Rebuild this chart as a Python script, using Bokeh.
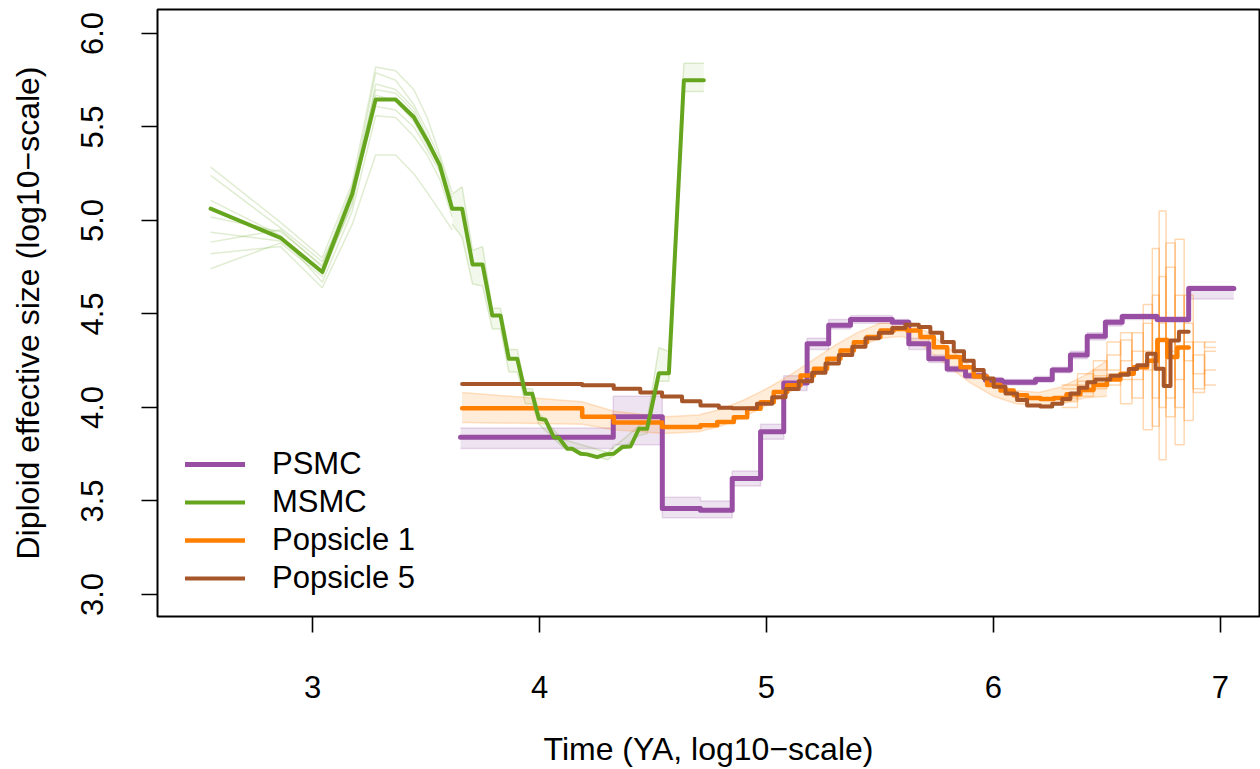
from bokeh.plotting import figure
from bokeh.models import Range1d, FixedTicker, Legend, LegendItem
from bokeh.embed import file_html
from bokeh.resources import INLINE

# ---------------- data (log10 time, log10 Ne) ----------------
x_ticks = [3, 4, 5, 6, 7]
x_tick_labels = ["3", "4", "5", "6", "7"]
y_ticks = [3.0, 3.5, 4.0, 4.5, 5.0, 5.5, 6.0]
y_tick_labels = ["3.0", "3.5", "4.0", "4.5", "5.0", "5.5", "6.0"]

# PSMC (step function: interval starts + final end)
psmc_t = [3.652, 4.325, 4.541, 4.709, 4.849, 4.974, 5.076, 5.179, 5.274, 5.370,
          5.554, 5.627, 5.715, 5.796, 5.877, 5.965, 6.038, 6.185, 6.259, 6.339,
          6.413, 6.493, 6.567, 6.721, 6.860, 7.059]
psmc_ne = [3.84, 3.95, 3.46, 3.45, 3.62, 3.87, 4.13, 4.34, 4.44, 4.47,
           4.455, 4.34, 4.26, 4.205, 4.17, 4.145, 4.135, 4.15, 4.20, 4.28,
           4.38, 4.455, 4.486, 4.47, 4.636]
psmc_lo = [3.78, 3.80, 3.41, 3.41, 3.58, 3.83, 4.09, 4.31, 4.42, 4.45,
           4.43, 4.31, 4.24, 4.19, 4.155, 4.13, 4.12, 4.135, 4.185, 4.26,
           4.36, 4.435, 4.47, 4.455, 4.58]
psmc_hi = [3.89, 4.06, 3.52, 3.50, 3.66, 3.91, 4.17, 4.37, 4.47, 4.49,
           4.47, 4.37, 4.28, 4.22, 4.185, 4.16, 4.15, 4.165, 4.215, 4.30,
           4.40, 4.47, 4.50, 4.485, 4.65]

# MSMC (polyline)
msmc_t = [2.551, 2.859, 3.043, 3.175, 3.278, 3.366, 3.446, 3.505, 3.561, 3.615,
          3.659, 3.705, 3.749, 3.792, 3.828, 3.865, 3.902, 3.938, 3.968, 3.997,
          4.026, 4.063, 4.085, 4.122, 4.144, 4.181, 4.210, 4.254, 4.291, 4.327,
          4.364, 4.401, 4.438, 4.474, 4.526, 4.570, 4.636, 4.724]
msmc_ne = [5.063, 4.907, 4.724, 5.143, 5.647, 5.647, 5.553, 5.428, 5.294, 5.063,
           5.063, 4.765, 4.765, 4.492, 4.492, 4.260, 4.260, 4.073, 4.073, 3.940,
           3.934, 3.841, 3.838, 3.779, 3.779, 3.752, 3.749, 3.734, 3.749, 3.752,
           3.788, 3.791, 3.886, 3.886, 4.183, 4.183, 5.749, 5.749]
# MSMC bootstrap replicates (early part)
msmc_rep_t = [2.551, 2.859, 3.043, 3.175, 3.278, 3.366, 3.446, 3.505, 3.561, 3.615]
msmc_rep1 = [5.285, 4.99, 4.80, 5.20, 5.82, 5.80, 5.70, 5.55, 5.35, 5.15]
msmc_rep2 = [4.742, 4.88, 4.70, 5.10, 5.73, 5.70, 5.60, 5.45, 5.30, 5.10]
msmc_rep3 = [5.107, 4.92, 4.67, 5.05, 5.56, 5.55, 5.45, 5.35, 5.22, 5.02]
msmc_rep4 = [4.884, 4.95, 4.75, 5.15, 5.79, 5.75, 5.62, 5.48, 5.33, 5.12]
msmc_rep5 = [5.241, 4.96, 4.78, 5.12, 5.61, 5.59, 5.50, 5.38, 5.26, 5.05]
msmc_rep6 = [4.822, 4.86, 4.64, 4.98, 5.35, 5.35, 5.25, 5.15, 5.05, 4.95]
msmc_rep7 = [4.937, 4.89, 4.72, 5.08, 5.67, 5.64, 5.53, 5.40, 5.28, 5.06]
msmc_rep8 = [5.018, 4.94, 4.76, 5.18, 5.70, 5.68, 5.58, 5.42, 5.30, 5.08]
# MSMC bootstrap envelope (later part)
msmc_band_t = [3.615, 3.659, 3.705, 3.749, 3.792, 3.828, 3.865, 3.902, 3.938, 3.968,
               3.997, 4.10, 4.30, 4.438, 4.474, 4.526, 4.570, 4.636, 4.724]
msmc_band_lo = [4.98, 4.91, 4.66, 4.65, 4.42, 4.42, 4.19, 4.19, 4.02, 4.02,
                3.91, 3.79, 3.72, 3.85, 3.86, 4.14, 4.14, 5.69, 5.69]
msmc_band_hi = [5.14, 5.18, 4.84, 4.86, 4.53, 4.53, 4.31, 4.31, 4.10, 4.10,
                3.97, 3.83, 3.76, 3.90, 3.93, 4.32, 4.30, 5.84, 5.84]

# Popsicle 1 (step)
pop1_t = [3.659, 4.188, 4.327, 4.540, 4.709, 4.783, 4.856, 4.915, 4.974, 5.032,
          5.091, 5.150, 5.209, 5.267, 5.326, 5.385, 5.443, 5.502, 5.561, 5.620,
          5.678, 5.737, 5.796, 5.855, 5.913, 5.972, 6.031, 6.089, 6.148, 6.207,
          6.266, 6.322, 6.383, 6.441, 6.500, 6.559, 6.618, 6.677, 6.722, 6.766,
          6.810, 6.860]
pop1_ne = [3.995, 3.95, 3.92, 3.895, 3.905, 3.922, 3.948, 3.993, 4.028, 4.082,
           4.118, 4.171, 4.207, 4.26, 4.305, 4.349, 4.376, 4.412, 4.42, 4.412,
           4.376, 4.322, 4.27, 4.215, 4.165, 4.12, 4.09, 4.065, 4.05, 4.045,
           4.05, 4.07, 4.095, 4.12, 4.15, 4.18, 4.215, 4.25, 4.36, 4.27,
           4.32]
pop1_band_t = [3.659, 4.188, 4.327, 4.55, 4.70, 4.80, 4.90, 5.00, 5.10, 5.20,
               5.30, 5.40, 5.50, 5.60, 5.70, 5.80, 5.90, 6.00, 6.10, 6.20,
               6.30, 6.40, 6.50]
pop1_band_lo = [3.92, 3.91, 3.88, 3.86, 3.87, 3.90, 3.95, 4.01, 4.08, 4.16,
                4.25, 4.32, 4.37, 4.38, 4.32, 4.22, 4.13, 4.06, 4.02, 4.01,
                4.02, 4.05, 4.06]
pop1_band_hi = [4.08, 4.03, 3.98, 3.95, 3.96, 3.99, 4.04, 4.10, 4.17, 4.25,
                4.33, 4.40, 4.45, 4.45, 4.41, 4.32, 4.22, 4.13, 4.09, 4.08,
                4.11, 4.17, 4.25]
# Popsicle 1 bootstrap replicates (oldest part)
pop1_rep_t = [6.30, 6.37, 6.44, 6.50, 6.56, 6.61, 6.66, 6.70, 6.73, 6.76,
              6.80, 6.84, 6.88, 6.93, 6.98]
pop1_repA = [4.10, 4.14, 4.20, 4.28, 4.36, 4.22, 4.55, 3.90, 5.05, 3.95, 4.60, 4.25, 4.35, 4.32]
pop1_repB = [4.05, 4.12, 4.17, 4.12, 4.25, 4.40, 3.88, 4.85, 3.72, 4.88, 4.00, 4.45, 4.10, 4.20]
pop1_repC = [4.03, 4.08, 4.13, 4.18, 4.02, 4.30, 4.45, 4.20, 4.70, 4.05, 4.90, 3.93, 4.28, 4.12]
pop1_repD = [4.12, 4.18, 4.10, 4.35, 4.15, 4.05, 4.30, 4.60, 4.00, 4.75, 4.15, 4.60, 4.18, 4.30]
pop1_repE = [4.00, 4.06, 4.25, 4.20, 4.40, 4.15, 4.20, 4.05, 4.45, 4.30, 3.80, 4.35, 4.08, 4.35]

# Popsicle 5 (step)
pop5_t = [3.659, 4.188, 4.327, 4.444, 4.540, 4.628, 4.709, 4.790, 4.849, 4.958,
          5.025, 5.084, 5.142, 5.201, 5.260, 5.319, 5.378, 5.436, 5.495, 5.554,
          5.612, 5.671, 5.722, 5.774, 5.825, 5.870, 5.913, 5.957, 6.001, 6.053,
          6.104, 6.148, 6.207, 6.259, 6.303, 6.339, 6.376, 6.413, 6.449, 6.515,
          6.559, 6.596, 6.633, 6.677, 6.714, 6.750, 6.780, 6.817, 6.860]
pop5_ne = [4.125, 4.118, 4.100, 4.080, 4.058, 4.033, 4.011, 3.998, 3.995, 4.02,
           4.055, 4.098, 4.14, 4.185, 4.235, 4.28, 4.325, 4.37, 4.40, 4.425,
           4.442, 4.43, 4.40, 4.35, 4.30, 4.25, 4.20, 4.155, 4.11, 4.075,
           4.04, 4.01, 4.005, 4.02, 4.045, 4.075, 4.105, 4.135, 4.15, 4.17,
           4.175, 4.205, 4.225, 4.287, 4.207, 4.115, 4.358, 4.405]

labels = ["PSMC", "MSMC", "Popsicle 1", "Popsicle 5"]
colors = ["#984EA3", "#66A61E", "#FF7F00", "#A65628"]
FONT = "Liberation Sans"


def step_y(v):
    return list(v) + [v[-1]]


p = figure(width=1260, height=769, output_backend="svg", toolbar_location=None,
           x_range=Range1d(2.317, 7.172), y_range=Range1d(2.882, 6.128),
           min_border_left=157, min_border_right=1, min_border_top=9,
           min_border_bottom=153)
p.background_fill_color = "white"
p.border_fill_color = "white"
p.outline_line_color = "black"
p.outline_line_width = 2
p.xgrid.visible = False
p.ygrid.visible = False

for ax in (p.xaxis[0], p.yaxis[0]):
    ax.axis_line_color = None
    ax.major_tick_out = 16
    ax.major_tick_in = 0
    ax.major_tick_line_width = 1.6
    ax.major_tick_line_color = "black"
    ax.minor_tick_line_color = None
    ax.major_label_text_font = FONT
    ax.major_label_text_font_size = "31px"
    ax.major_label_text_color = "black"
    ax.axis_label_text_font = FONT
    ax.axis_label_text_font_size = "32px"
    ax.axis_label_text_font_style = "normal"
    ax.axis_label_text_color = "black"

p.xaxis.ticker = FixedTicker(ticks=x_ticks)
p.xaxis.major_label_overrides = dict(zip(x_ticks, x_tick_labels))
p.yaxis.ticker = FixedTicker(ticks=y_ticks)
p.yaxis.major_label_overrides = dict(zip(y_ticks, y_tick_labels))
p.yaxis.major_label_orientation = "vertical"
p.xaxis.major_label_standoff = 43
p.yaxis.major_label_standoff = 38
p.xaxis.axis_label = "Time (YA, log10\u2212scale)"
p.yaxis.axis_label = "Diploid effective size (log10\u2212scale)"
p.xaxis.axis_label_standoff = 30
p.yaxis.axis_label_standoff = 33

PURPLE, GREEN, ORANGE, BROWN = colors

# ---- bootstrap replicates / envelopes ----
for rep in [msmc_rep1, msmc_rep2, msmc_rep3, msmc_rep4, msmc_rep5, msmc_rep6, msmc_rep7, msmc_rep8]:
    p.line(msmc_rep_t, rep, line_color=GREEN, line_alpha=0.2, line_width=1.5)
p.varea(x=msmc_band_t, y1=msmc_band_lo, y2=msmc_band_hi, fill_color=GREEN, fill_alpha=0.08)
p.line(msmc_band_t, msmc_band_lo, line_color=GREEN, line_alpha=0.2, line_width=1.5)
p.line(msmc_band_t, msmc_band_hi, line_color=GREEN, line_alpha=0.2, line_width=1.5)

p.varea_step(x=psmc_t, y1=step_y(psmc_lo), y2=step_y(psmc_hi), step_mode="after",
             fill_color=PURPLE, fill_alpha=0.16)
p.step(psmc_t, step_y(psmc_lo), mode="after", line_color=PURPLE, line_alpha=0.2, line_width=1.5)
p.step(psmc_t, step_y(psmc_hi), mode="after", line_color=PURPLE, line_alpha=0.2, line_width=1.5)

p.varea(x=pop1_band_t, y1=pop1_band_lo, y2=pop1_band_hi, fill_color=ORANGE, fill_alpha=0.15)
p.line(pop1_band_t, pop1_band_lo, line_color=ORANGE, line_alpha=0.2, line_width=1.5)
p.line(pop1_band_t, pop1_band_hi, line_color=ORANGE, line_alpha=0.2, line_width=1.5)
for rep in [pop1_repA, pop1_repB, pop1_repC, pop1_repD, pop1_repE]:
    p.step(pop1_rep_t, step_y(rep), mode="after", line_color=ORANGE, line_alpha=0.3, line_width=1.5)

# ---- main estimates ----
r_psmc = p.step(psmc_t, step_y(psmc_ne), mode="after", line_color=PURPLE, line_width=5,
                line_cap="round", line_join="round")
r_pop1 = p.step(pop1_t, step_y(pop1_ne), mode="after", line_color=ORANGE, line_width=4.5,
                line_cap="round", line_join="round")
r_pop5 = p.step(pop5_t, step_y(pop5_ne), mode="after", line_color=BROWN, line_width=4,
                line_cap="round", line_join="round")
r_msmc = p.line(msmc_t, msmc_ne, line_color=GREEN, line_width=4,
                line_cap="round", line_join="round")

legend = Legend(items=[LegendItem(label=labels[0], renderers=[r_psmc]),
                       LegendItem(label=labels[1], renderers=[r_msmc]),
                       LegendItem(label=labels[2], renderers=[r_pop1]),
                       LegendItem(label=labels[3], renderers=[r_pop5])],
                location=(28, 19), margin=0, padding=0, spacing=0,
                glyph_width=60, glyph_height=38, label_height=38, label_standoff=27,
                label_text_font=FONT, label_text_font_size="31px",
                label_text_color="black",
                border_line_color=None, background_fill_alpha=0)
p.add_layout(legend)

open("out.html", "w").write(file_html(p, INLINE))
